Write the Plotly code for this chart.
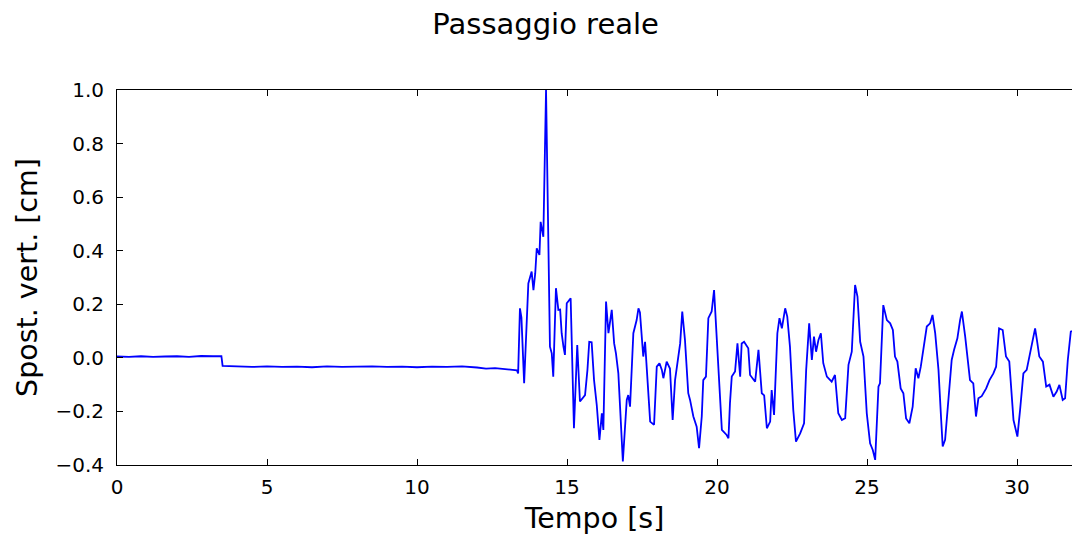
import plotly.graph_objects as go

# Time [s] and vertical displacement [cm]
tempo = [
    0.0, 0.4, 0.8, 1.2, 1.6, 2.0, 2.4, 2.8, 3.2, 3.48,
    3.52, 4.0, 4.5, 5.0, 5.5, 6.0, 6.5, 7.0, 7.5, 8.0, 8.5, 9.0, 9.5, 10.0,
    10.5, 11.0, 11.5, 12.0, 12.3, 12.6, 12.9, 13.2, 13.33,
    13.37, 13.43, 13.48, 13.57, 13.71, 13.82, 13.88, 13.94, 13.99, 14.08, 14.12, 14.21,
    14.30, 14.34, 14.43, 14.49, 14.54, 14.63, 14.71, 14.77, 14.82, 14.88, 14.93, 14.99,
    15.12, 15.23, 15.34, 15.43, 15.60, 15.68, 15.74, 15.82, 15.90, 15.99, 16.08, 16.16,
    16.21, 16.30, 16.38, 16.49, 16.57, 16.63, 16.71, 16.86, 16.99, 17.04, 17.10, 17.21,
    17.32, 17.38, 17.43, 17.54, 17.60, 17.66, 17.77, 17.90, 17.99, 18.08, 18.16, 18.21,
    18.32, 18.43, 18.52, 18.60, 18.71, 18.77, 18.84, 18.93, 19.04, 19.10, 19.21, 19.32,
    19.40, 19.49, 19.54, 19.63, 19.71, 19.82, 19.90, 19.99, 20.10, 20.16, 20.32, 20.38,
    20.43, 20.49, 20.60, 20.68, 20.77, 20.82, 20.90, 21.04, 21.10, 21.27, 21.38, 21.49,
    21.57, 21.66, 21.77, 21.82, 21.90, 22.01, 22.08, 22.16, 22.27, 22.34, 22.43, 22.54,
    22.63, 22.77, 22.90, 22.97, 23.07, 23.16, 23.23, 23.30, 23.38, 23.46, 23.54, 23.66,
    23.82, 23.93, 24.04, 24.16, 24.27, 24.38, 24.49, 24.60, 24.68, 24.77, 24.88, 24.99,
    25.10, 25.19, 25.27, 25.38, 25.43, 25.54, 25.66, 25.77, 25.86, 25.93, 26.01, 26.12,
    26.21, 26.30, 26.41, 26.52, 26.62, 26.71, 26.79, 26.88, 26.99, 27.10, 27.18, 27.27,
    27.38, 27.47, 27.52, 27.60, 27.71, 27.82, 27.90, 28.01, 28.10, 28.16, 28.27, 28.34,
    28.43, 28.54, 28.63, 28.71, 28.82, 28.97, 29.08, 29.21, 29.30, 29.40, 29.52, 29.63,
    29.74, 29.88, 30.01, 30.10, 30.21, 30.32, 30.43, 30.52, 30.60, 30.66, 30.74, 30.86,
    30.97, 31.08, 31.21, 31.32, 31.41, 31.52, 31.60, 31.69, 31.79, 31.83,
]
spostamento = [
    0.005, 0.004, 0.006, 0.004, 0.005, 0.006, 0.004, 0.007, 0.006, 0.006,
    -0.030, -0.033, -0.034, -0.032, -0.034, -0.033, -0.035, -0.032, -0.034, -0.033, -0.032, -0.034, -0.033, -0.035,
    -0.033, -0.034, -0.032, -0.036, -0.040, -0.038, -0.042, -0.045, -0.047,
    -0.058, 0.185, 0.150, -0.095, 0.278, 0.322, 0.253, 0.316, 0.409, 0.384, 0.508, 0.452,
    1.000, 0.664, 0.042, 0.017, -0.070, 0.260, 0.179, 0.180, 0.092, 0.042, 0.011, 0.204,
    0.222, -0.263, 0.048, -0.163, -0.139, -0.045, 0.060, 0.058, -0.083, -0.176, -0.306, -0.207,
    -0.269, 0.210, 0.092, 0.179, 0.054, 0.017, -0.058, -0.387, -0.157, -0.139, -0.182, 0.092,
    0.141, 0.185, 0.170, 0.005, 0.060, -0.045, -0.238, -0.250, -0.033, -0.020, -0.045, -0.076,
    -0.014, -0.040, -0.232, -0.083, 0.005, 0.054, 0.173, 0.067, -0.132, -0.157, -0.219, -0.257,
    -0.337, -0.219, -0.083, -0.070, 0.148, 0.173, 0.253, 0.079, -0.170, -0.269, -0.288, -0.300,
    -0.170, -0.070, -0.051, 0.054, -0.070, 0.054, 0.060, 0.036, -0.064, -0.089, 0.030, -0.132,
    -0.140, -0.263, -0.238, -0.120, -0.213, 0.092, 0.148, 0.110, 0.185, 0.154, 0.042, -0.194,
    -0.313, -0.282, -0.244, -0.045, 0.129, -0.008, 0.079, 0.023, 0.067, 0.092, -0.020, -0.070,
    -0.089, -0.064, -0.207, -0.232, -0.225, -0.026, 0.023, 0.272, 0.229, 0.060, 0.005, -0.207,
    -0.319, -0.344, -0.381, -0.107, -0.095, 0.197, 0.141, 0.129, 0.104, 0.005, -0.014, -0.114,
    -0.132, -0.226, -0.244, -0.182, -0.039, -0.076, -0.033, 0.030, 0.117, 0.129, 0.160, 0.092,
    -0.045, -0.232, -0.331, -0.306, -0.157, -0.008, 0.030, 0.073, 0.141, 0.173, 0.079, 0.005,
    -0.083, -0.095, -0.219, -0.151, -0.143, -0.114, -0.083, -0.058, -0.033, 0.110, 0.104, 0.005,
    -0.014, -0.232, -0.294, -0.194, -0.058, -0.045, 0.017, 0.060, 0.110, 0.067, 0.005, -0.014,
    -0.107, -0.100, -0.145, -0.126, -0.101, -0.157, -0.151, -0.008, 0.098, 0.100,
]

x_ticks = [0, 5, 10, 15, 20, 25, 30]
y_ticks = [-0.4, -0.2, 0.0, 0.2, 0.4, 0.6, 0.8, 1.0]
y_ticklabels = ["\u22120.4", "\u22120.2", "0.0", "0.2", "0.4", "0.6", "0.8", "1.0"]

fig = go.Figure(
    go.Scatter(
        x=tempo, y=spostamento, mode="lines",
        line=dict(color="#0000ff", width=1.8),
        hoverinfo="skip",
    )
)

font_family = "DejaVu Sans"
fig.update_layout(
    width=1072, height=535,
    paper_bgcolor="white", plot_bgcolor="white",
    margin=dict(l=117, r=0, t=90, b=70, autoexpand=False),
    showlegend=False,
    font=dict(family=font_family, color="black", size=20),
    title=dict(
        text="Passaggio reale", xref="container", x=0.509, xanchor="center",
        yref="container", y=1 - 24 / 535, yanchor="middle",
        font=dict(family=font_family, size=29, color="black"),
    ),
)
fig.update_xaxes(
    range=[0, 31.83], tickvals=x_ticks, ticktext=[str(v) for v in x_ticks],
    ticks="inside", ticklen=6, tickwidth=1, tickcolor="black",
    showline=True, linecolor="black", linewidth=1, mirror="ticks",
    showgrid=False, zeroline=False, automargin=False,
    tickfont=dict(size=20), ticklabelstandoff=4,
    title=dict(text="Tempo [s]", font=dict(size=28.5), standoff=10),
)
fig.update_yaxes(
    range=[-0.4, 1.0], tickvals=y_ticks, ticktext=y_ticklabels,
    ticks="inside", ticklen=6, tickwidth=1, tickcolor="black",
    showline=True, linecolor="black", linewidth=1, mirror=False,
    showgrid=False, zeroline=False, automargin=False,
    tickfont=dict(size=20), ticklabelstandoff=8,
    title=dict(text="Spost. vert. [cm]", font=dict(size=28.5), standoff=9),
)

fig.write_html(
    "out.html",
    config={"displayModeBar": False, "staticPlot": True},
    post_script="document.body.style.margin='0';document.body.style.overflow='hidden';",
)
